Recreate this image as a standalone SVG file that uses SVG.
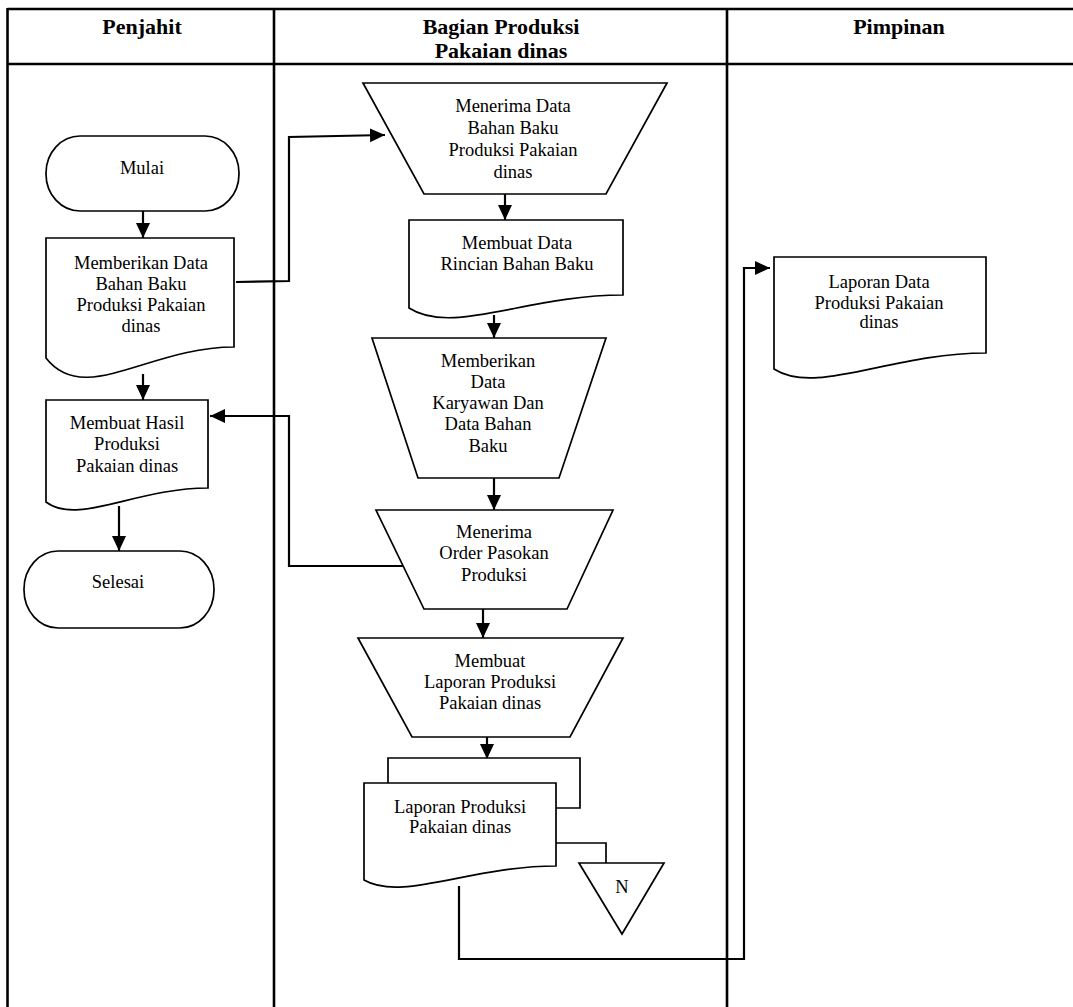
<svg xmlns="http://www.w3.org/2000/svg" width="1073" height="1007" viewBox="0 0 1073 1007">
  <style>
    .lane { stroke: #000; stroke-width: 2.6; fill: none; }
    .shape { stroke: #000; stroke-width: 1.7; fill: #fff; }
    .conn { stroke: #000; stroke-width: 2.2; fill: none; }
    .thin { stroke: #000; stroke-width: 1.7; fill: none; }
    .hd { font-family: "Liberation Serif", "Times New Roman", Times, serif; font-weight: bold; font-size: 22px; text-anchor: middle; fill: #000; }
    .tx { font-family: "Liberation Serif", "Times New Roman", Times, serif; font-size: 18.5px; text-anchor: middle; fill: #000; }
  </style>
  <defs>
    <marker id="arrow" markerUnits="userSpaceOnUse" markerWidth="16" markerHeight="16" refX="15" refY="8" orient="auto">
      <path d="M0,1 L15,8 L0,15 Z" fill="#000"/>
    </marker>
  </defs>
  <rect width="1073" height="1007" fill="#fff"/>

  <!-- swimlane frame -->
  <g id="lanes">
    <line class="lane" x1="7.5" y1="9" x2="1073" y2="9"/>
    <line class="lane" x1="7.5" y1="64" x2="1073" y2="64"/>
    <line class="lane" x1="7.5" y1="8" x2="7.5" y2="1007"/>
    <line class="lane" x1="274" y1="9" x2="274" y2="1007"/>
    <line class="lane" x1="727" y1="9" x2="727" y2="1007"/>
    <text class="hd" x="142" y="34">Penjahit</text>
    <text class="hd" x="501" y="34">Bagian Produksi</text>
    <text class="hd" x="501" y="58">Pakaian dinas</text>
    <text class="hd" x="899" y="34">Pimpinan</text>
  </g>

  <!-- connectors -->
  <g id="connectors">
    <line class="conn" x1="143" y1="211" x2="143" y2="238" marker-end="url(#arrow)"/>
    <line class="conn" x1="143" y1="374" x2="143" y2="400" marker-end="url(#arrow)"/>
    <line class="conn" x1="119" y1="506" x2="119" y2="551" marker-end="url(#arrow)"/>
    <polyline class="conn" points="236,282 289,281 289,137 385,135" marker-end="url(#arrow)"/>
    <polyline class="conn" points="409,566 289,566 289,416 210,416" marker-end="url(#arrow)"/>
    <line class="conn" x1="505" y1="194" x2="505" y2="220" marker-end="url(#arrow)"/>
    <line class="conn" x1="494" y1="315" x2="494" y2="338" marker-end="url(#arrow)"/>
    <line class="conn" x1="494" y1="478" x2="494" y2="510" marker-end="url(#arrow)"/>
    <line class="conn" x1="483" y1="609" x2="483" y2="638" marker-end="url(#arrow)"/>
    <line class="conn" x1="487" y1="736" x2="487" y2="759" marker-end="url(#arrow)"/>
    <polyline class="thin" points="556,843 606,843 606,863"/>
    <polyline class="conn" points="459,886 459,959 744,959 744,268 770,268" marker-end="url(#arrow)"/>
  </g>

  <!-- Penjahit lane -->
  <g id="mulai">
    <rect class="shape" x="46" y="136" width="193" height="75" rx="34" ry="37"/>
    <text class="tx" x="142" y="174">Mulai</text>
  </g>
  <g id="memberikan-data-bahan-baku">
    <path class="shape" d="M46,238 H234 V347 C149,347 84,407 46,358 Z"/>
    <text class="tx" x="141" y="269">Memberikan Data</text>
    <text class="tx" x="141" y="290">Bahan Baku</text>
    <text class="tx" x="141" y="311">Produksi Pakaian</text>
    <text class="tx" x="141" y="332">dinas</text>
  </g>
  <g id="membuat-hasil">
    <path class="shape" d="M46,400 H208 V488 C135,488 78,526 46,502 Z"/>
    <text class="tx" x="127" y="429">Membuat Hasil</text>
    <text class="tx" x="127" y="450">Produksi</text>
    <text class="tx" x="127" y="472">Pakaian dinas</text>
  </g>
  <g id="selesai">
    <rect class="shape" x="24" y="551" width="190" height="77" rx="34" ry="38"/>
    <text class="tx" x="118" y="588">Selesai</text>
  </g>

  <!-- Bagian Produksi lane -->
  <g id="menerima-data">
    <polygon class="shape" points="363,83 667,83 606,194 424,194"/>
    <text class="tx" x="513" y="112">Menerima Data</text>
    <text class="tx" x="513" y="134">Bahan Baku</text>
    <text class="tx" x="513" y="156">Produksi Pakaian</text>
    <text class="tx" x="513" y="178">dinas</text>
  </g>
  <g id="membuat-data-rincian">
    <path class="shape" d="M409,220 H623 V295 C527,295 452,336 409,308 Z"/>
    <text class="tx" x="517" y="249">Membuat Data</text>
    <text class="tx" x="517" y="270">Rincian Bahan Baku</text>
  </g>
  <g id="memberikan-data-karyawan">
    <polygon class="shape" points="372,338 606,338 559,478 418,478"/>
    <text class="tx" x="488" y="367">Memberikan</text>
    <text class="tx" x="488" y="388">Data</text>
    <text class="tx" x="488" y="409">Karyawan Dan</text>
    <text class="tx" x="488" y="430">Data Bahan</text>
    <text class="tx" x="488" y="452">Baku</text>
  </g>
  <g id="menerima-order">
    <polygon class="shape" points="376,510 613,510 567,609 424,609"/>
    <text class="tx" x="494" y="538">Menerima</text>
    <text class="tx" x="494" y="559">Order Pasokan</text>
    <text class="tx" x="494" y="581">Produksi</text>
  </g>
  <g id="membuat-laporan">
    <polygon class="shape" points="358,638 623,638 570,737 412,737"/>
    <text class="tx" x="490" y="667">Membuat</text>
    <text class="tx" x="490" y="688">Laporan Produksi</text>
    <text class="tx" x="490" y="709">Pakaian dinas</text>
  </g>
  <g id="laporan-produksi">
    <polyline class="shape" points="388,783 388,758 580,758 580,808 556,808"/>
    <path class="shape" d="M364,783 H556 V866 C470,866 402,902 364,880 Z"/>
    <text class="tx" x="460" y="813">Laporan Produksi</text>
    <text class="tx" x="460" y="833">Pakaian dinas</text>
  </g>
  <g id="connector-n">
    <polygon class="shape" points="579,863 664,863 622,934"/>
    <text class="tx" x="622" y="893">N</text>
  </g>

  <!-- Pimpinan lane -->
  <g id="laporan-data">
    <path class="shape" d="M774,257 H986 V353 C891,353 816,396 774,369 Z"/>
    <text class="tx" x="879" y="288">Laporan Data</text>
    <text class="tx" x="879" y="309">Produksi Pakaian</text>
    <text class="tx" x="879" y="328">dinas</text>
  </g>
</svg>
